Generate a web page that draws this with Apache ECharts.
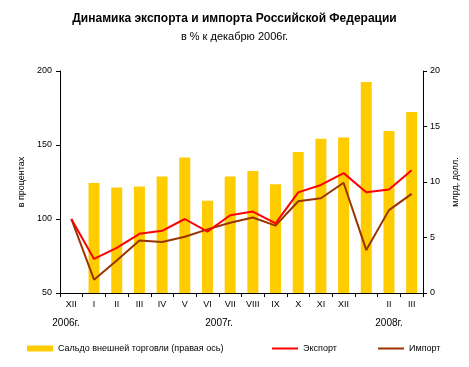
<!DOCTYPE html>
<html><head><meta charset="utf-8">
<script src="https://cdn.jsdelivr.net/npm/echarts@6/dist/echarts.min.js"></script>
<style>html,body{margin:0;padding:0;background:#fff}#c{width:469px;height:367px}</style>
</head><body><div id="c"></div>
<script>
const categories = ['XII','I','II','III','IV','V','VI','VII','VIII','IX','X','XI','XII','','II','III'];
const balance = [null, 9.9, 9.5, 9.6, 10.5, 12.2, 8.3, 10.5, 11.0, 9.8, 12.7, 13.9, 14.0, 19.0, 14.6, 16.3];
const exportVals = [100, 73, 80.5, 90, 92, 100, 91.5, 102.5, 105, 97, 118, 123, 131, 118, 120, 133];
const importVals = [100, 59, 72, 85.5, 84.5, 88, 93, 97.5, 101, 95.5, 112, 114, 124.5, 79, 106, 117];
const leftTicks = [50, 200, 50];
const rightTicks = [0, 20, 5];
const yearLabels = [['2006г.', 66], ['2007г.', 219], ['2008г.', 389]];

const F = 'Liberation Sans, Arial, sans-serif';
const chart = echarts.init(document.getElementById('c'), null, {renderer:'canvas'});
const axisBase = {
  axisLine:{show:true,lineStyle:{color:'#000',width:1}},
  axisTick:{show:true,length:4,lineStyle:{color:'#000'}},
  splitLine:{show:false},
  axisLabel:{color:'#000',fontFamily:F,fontSize:9}
};
const legText = {fontFamily:F,fontSize:9,color:'#000'};
chart.setOption({
  animation:false,
  backgroundColor:'#fff',
  title:[
    {text:'Динамика экспорта и импорта Российской Федерации',left:'center',top:8,
     textStyle:{fontFamily:F,fontSize:12,fontWeight:'bold',color:'#000'}},
    {text:'в % к декабрю 2006г.',left:'center',top:26,
     textStyle:{fontFamily:F,fontSize:11,fontWeight:'normal',color:'#000'}}
  ],
  grid:{left:60,right:46,top:71,bottom:74,containLabel:false},
  xAxis:{type:'category',data:categories,boundaryGap:true,
    axisLine:{lineStyle:{color:'#000'}},
    axisTick:{show:true,length:4,interval:0,alignWithLabel:false,lineStyle:{color:'#000'}},
    axisLabel:{interval:0,color:'#000',fontFamily:F,fontSize:9,margin:7}},
  yAxis:[
    Object.assign({},axisBase,{type:'value',position:'left',min:leftTicks[0],max:leftTicks[1],interval:leftTicks[2],
      name:'в процентах',nameLocation:'middle',nameGap:34,
      nameTextStyle:{fontFamily:F,fontSize:9,color:'#000'},
      axisLabel:{color:'#000',fontFamily:F,fontSize:9,margin:8}}),
    Object.assign({},axisBase,{type:'value',position:'right',min:rightTicks[0],max:rightTicks[1],interval:rightTicks[2],
      name:'млрд. долл.',nameLocation:'middle',nameGap:23,
      nameTextStyle:{fontFamily:F,fontSize:9,color:'#000'},
      axisLabel:{color:'#000',fontFamily:F,fontSize:9,margin:7}})
  ],
  legend:[
    {data:[{name:'Сальдо внешней торговли (правая ось)',icon:'rect'}],left:22,top:339,itemWidth:26,itemHeight:6,
     textStyle:legText},
    {data:[{name:'Экспорт',icon:'rect',itemStyle:{color:'#FF0000'}}],left:267,top:339,itemWidth:26,itemHeight:2,
     textStyle:legText},
    {data:[{name:'Импорт',icon:'rect',itemStyle:{color:'#993300'}}],left:373,top:339,itemWidth:26,itemHeight:2,
     textStyle:legText}
  ],
  graphic: yearLabels.map(([t,x]) => ({type:'text',x:x,y:323,
    style:{text:t,fill:'#000',font:'10px '+F,textAlign:'center',textVerticalAlign:'middle'}})),
  series:[
    {name:'Сальдо внешней торговли (правая ось)',type:'bar',yAxisIndex:1,data:balance,barWidth:11,
     itemStyle:{color:'#FFCC00'},z:1},
    {name:'Экспорт',type:'line',yAxisIndex:0,data:exportVals,symbol:'none',
     lineStyle:{color:'#FF0000',width:2},itemStyle:{color:'#FF0000'},z:3},
    {name:'Импорт',type:'line',yAxisIndex:0,data:importVals,symbol:'none',
     lineStyle:{color:'#993300',width:2},itemStyle:{color:'#993300'},z:2}
  ]
});
</script></body></html>
